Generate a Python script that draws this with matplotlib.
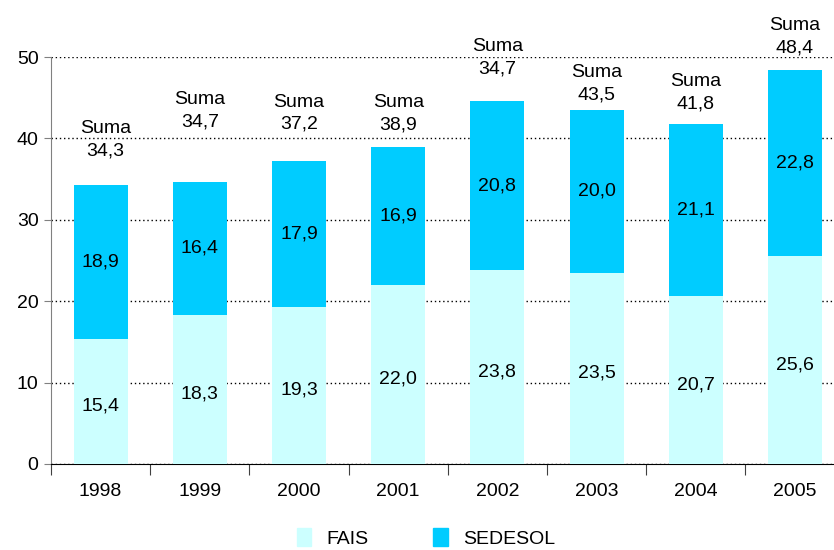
import matplotlib.pyplot as plt
import numpy as np
from matplotlib.ticker import FixedLocator, NullFormatter
from matplotlib.patches import Patch

years = ["1998", "1999", "2000", "2001", "2002", "2003", "2004", "2005"]
fais = [15.4, 18.3, 19.3, 22.0, 23.8, 23.5, 20.7, 25.6]
sedesol = [18.9, 16.4, 17.9, 16.9, 20.8, 20.0, 21.1, 22.8]
suma_labels = ["34,3", "34,7", "37,2", "38,9", "34,7", "43,5", "41,8", "48,4"]

# layout: vertical centre of the "Suma" label blocks (data units)
suma_y = [39.8, 43.4, 43.1, 43.0, 49.9, 46.7, 45.6, 52.5]

plt.rcParams['font.family'] = ['Liberation Sans', 'DejaVu Sans']

fig = plt.figure(figsize=(8.34, 5.5), dpi=100)
W, H = 834, 550
left_px, bottom_px, top_px = 51, 464, 57
cat_w = 99.2
ax = fig.add_axes([left_px / W, (H - bottom_px) / H, (W - left_px) / W, (bottom_px - top_px) / H])

x = np.arange(len(years))
c_fais = "#CCFFFF"
c_sed = "#00CCFF"
bw = 0.545
ax.bar(x, fais, width=bw, color=c_fais, zorder=3)
ax.bar(x, sedesol, width=bw, bottom=fais, color=c_sed, zorder=3)

fs = 14
for i in range(len(years)):
    ax.text(x[i], fais[i] / 2 - 0.6, f"{fais[i]:.1f}".replace(".", ","), ha="center", va="center", fontsize=fs, zorder=4)
    ax.text(x[i], fais[i] + sedesol[i] / 2, f"{sedesol[i]:.1f}".replace(".", ","), ha="center", va="center", fontsize=fs, zorder=4)
    ax.text(x[i] + (0.05 if i == 0 else 0), suma_y[i], "Suma\n" + suma_labels[i], ha="center", va="center",
            fontsize=fs, linespacing=1.4, zorder=4, clip_on=False)

ax.set_xlim(-0.5, -0.5 + (W - left_px) / cat_w)
ax.set_ylim(0, 50)
ax.set_yticks([0, 10, 20, 30, 40, 50])
ax.set_yticklabels(["0", "10", "20", "30", "40", "50"], fontsize=fs)
ax.yaxis.grid(True, linestyle=(0, (1, 2)), color="black", linewidth=1.0, zorder=0)
ax.set_axisbelow(True)

ax.xaxis.set_major_locator(FixedLocator(np.arange(-0.5, 8, 1.0)))
ax.xaxis.set_major_formatter(NullFormatter())
ax.xaxis.set_minor_locator(FixedLocator(x))
ax.set_xticklabels(years, minor=True, fontsize=fs)
ax.tick_params(axis="x", which="major", length=8, direction="out", color="#404040")
ax.tick_params(axis="x", which="minor", length=0, pad=14)
ax.tick_params(axis="y", length=5, direction="out", color="#808080", pad=4)

for s in ["top", "right"]:
    ax.spines[s].set_visible(False)
ax.spines["left"].set_color("#808080")
ax.spines["bottom"].set_color("black")

handles = [Patch(color=c_fais, label="FAIS"), Patch(color=c_sed, label="SEDESOL")]
fig.legend(handles=handles, loc="center", bbox_to_anchor=(426 / W, (H - 538) / H), ncol=2, frameon=False,
           fontsize=fs, handlelength=0.75, handleheight=1.0, columnspacing=3.3, handletextpad=0.8)

fig.savefig("out.png", dpi=100)
